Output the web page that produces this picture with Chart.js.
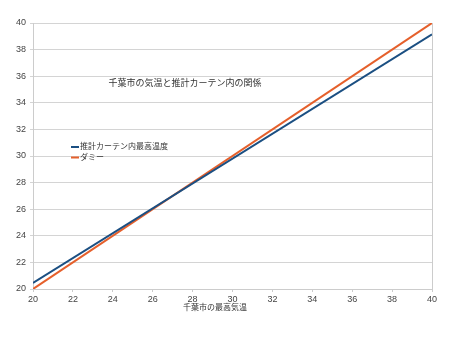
<!DOCTYPE html>
<html>
<head>
<meta charset="utf-8">
<script src="https://cdn.jsdelivr.net/npm/chart.js@4"></script>
<style>
body { margin: 0; background: #fff; }
#wrap { width: 450px; height: 338px; }
</style>
</head>
<body>
<div id="wrap"><canvas id="grafico" width="450" height="338"></canvas></div>
<script>
const titulo = '千葉市の気温と推計カーテン内の関係'
const tituloEixoX = '千葉市の最高気温'
const nomesSeries = ['推計カーテン内最高温度', 'ダミー']
const xValores = [20, 40]
const estimado = [20.45, 39.15]
const dummy = [20, 40]
const cores = ['#1b4f82', '#e5602c']
const fonte = '"Liberation Sans", "Noto Sans CJK JP", sans-serif'

// titulo, legenda e titulo do eixo x desenhados na mao (nao ficam centralizados no original)
const textoInterno = {
	id: 'textoInterno',
	afterDraw(chart) {
		const { ctx, chartArea } = chart
		ctx.save()
		ctx.font = '9px ' + fonte
		ctx.fillStyle = '#333'
		ctx.textBaseline = 'middle'
		ctx.textAlign = 'center'
		ctx.fillText(titulo, chartArea.left + 152, 84)
		ctx.font = '8px ' + fonte
		ctx.fillText(tituloEixoX, 215, 308)
		ctx.textAlign = 'left'
		nomesSeries.forEach((nome, i) => {
			const y = 147 + i * 10.5
			ctx.strokeStyle = cores[i]
			ctx.lineWidth = 2
			ctx.beginPath()
			ctx.moveTo(71, y)
			ctx.lineTo(79, y)
			ctx.stroke()
			ctx.fillText(nome, 80, y)
		})
		ctx.restore()
	}
}

const chart = new Chart(document.getElementById('grafico'), {
	type: 'line',
	data: {
		datasets: [
			{
				label: nomesSeries[0],
				data: xValores.map((x, i) => ({ x, y: estimado[i] })),
				borderColor: cores[0],
				borderWidth: 2,
				pointRadius: 0,
				tension: 0,
				fill: false
			},
			{
				label: nomesSeries[1],
				data: xValores.map((x, i) => ({ x, y: dummy[i] })),
				borderColor: cores[1],
				borderWidth: 2,
				pointRadius: 0,
				tension: 0,
				fill: false
			}
		]
	},
	options: {
		responsive: false,
		animation: false,
		layout: { padding: { top: 23, right: 18, left: 0, bottom: 0 } },
		plugins: {
			legend: { display: false },
			title: { display: false },
			tooltip: { enabled: false }
		},
		scales: {
			x: {
				type: 'linear',
				min: 20,
				max: 40,
				ticks: { stepSize: 2, color: '#444', font: { size: 9, family: fonte }, padding: 2 },
				grid: { display: true, drawOnChartArea: false, tickLength: 3, color: '#ccc' },
				border: { color: '#ccc' },
				afterFit(scale) { scale.height = 49 }
			},
			y: {
				min: 20,
				max: 40,
				ticks: { stepSize: 2, color: '#444', font: { size: 9, family: fonte }, padding: 4 },
				grid: { color: '#d4d4d4', tickLength: 3 },
				border: { color: '#ccc' },
				afterFit(scale) { scale.width = 33 }
			},
			y2: {
				position: 'right',
				min: 20,
				max: 40,
				display: true,
				ticks: { display: false },
				grid: { drawOnChartArea: false, drawTicks: false },
				border: { color: '#ccc' },
				afterFit(scale) { scale.width = 0 }
			}
		}
	},
	plugins: [textoInterno]
})
</script>
</body>
</html>
